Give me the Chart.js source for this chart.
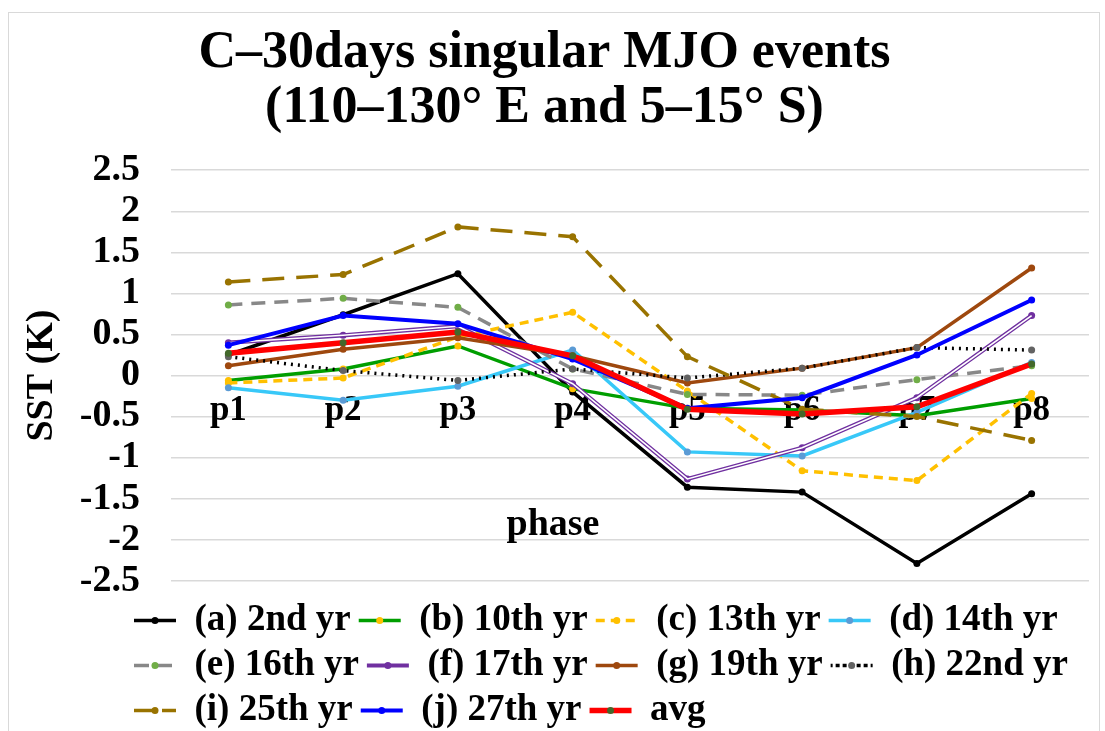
<!DOCTYPE html>
<html>
<head>
<meta charset="utf-8">
<script src="https://cdn.jsdelivr.net/npm/chart.js@4.4.1/dist/chart.umd.min.js"></script>
<style>
  html, body { margin: 0; padding: 0; background: #fff; }
  #wrap { position: relative; width: 1105px; height: 731px; overflow: hidden; }
  #frame { position: absolute; left: 8px; top: 12px; width: 1090px; height: 740px; border: 1px solid #d9d9d9; pointer-events: none; }
</style>
</head>
<body>
<div id="wrap">
  <canvas id="chart" width="1105" height="731"></canvas>
  <div id="frame"></div>
</div>
<script>
const phases = ['p1', 'p2', 'p3', 'p4', 'p5', 'p6', 'p7', 'p8'];

const yr2 = [0.25, 0.74, 1.24, -0.20, -1.36, -1.42, -2.29, -1.44];
const yr10 = [-0.06, 0.08, 0.36, -0.16, -0.40, -0.42, -0.49, -0.28];
const yr13 = [-0.09, -0.03, 0.47, 0.77, -0.19, -1.16, -1.28, -0.22];
const yr14 = [-0.15, -0.30, -0.13, 0.31, -0.93, -0.98, -0.45, 0.16];
const yr16 = [0.86, 0.94, 0.83, 0.08, -0.23, -0.24, -0.05, 0.12];
const yr17 = [0.40, 0.49, 0.60, -0.10, -1.26, -0.88, -0.27, 0.73];
const yr19 = [0.12, 0.32, 0.46, 0.24, -0.09, 0.09, 0.34, 1.31];
const yr22 = [0.23, 0.06, -0.06, 0.08, -0.03, 0.09, 0.34, 0.31];
const yr25 = [1.14, 1.23, 1.81, 1.69, 0.23, -0.41, -0.50, -0.79];
const yr27 = [0.37, 0.73, 0.63, 0.20, -0.40, -0.27, 0.25, 0.92];
const avg = [0.27, 0.40, 0.53, 0.24, -0.41, -0.47, -0.38, 0.14];

const font = 'Liberation Serif';

function line(label, data, color, dot, width, dash) {
  return {
    label: label,
    data: data,
    borderColor: color,
    backgroundColor: color,
    borderWidth: width,
    borderDash: dash || [],
    pointBackgroundColor: dot,
    pointBorderColor: dot,
    pointRadius: 3.5,
    pointBorderWidth: 0,
    tension: 0
  };
}

// white core over the purple series gives the double line
const purpleInner = {
  label: '_inner',
  data: yr17,
  borderColor: '#ffffff',
  borderWidth: 1.6,
  pointRadius: 0,
  tension: 0
};

const datasets = [
  line('(a) 2nd yr', yr2, '#000000', '#000000', 3.5),
  line('(b) 10th yr', yr10, '#009e00', '#ffc000', 3.5),
  line('(c) 13th yr', yr13, '#ffc000', '#ffc000', 3.5, [9, 6]),
  line('(d) 14th yr', yr14, '#38c8f8', '#5b9bd5', 3.5),
  line('(e) 16th yr', yr16, '#888888', '#70ad47', 3.5, [14, 9]),
  line('(f) 17th yr', yr17, '#7030a0', '#7030a0', 4.2),
  purpleInner,
  line('(g) 19th yr', yr19, '#9e480e', '#9e480e', 3.5),
  line('(h) 22nd yr', yr22, '#000000', '#636363', 3.5, [2, 5]),
  line('(i) 25th yr', yr25, '#997300', '#997300', 3.5, [22, 12]),
  line('(j) 27th yr', yr27, '#0000ff', '#0000ff', 4),
  line('avg', avg, '#ff0000', '#43682b', 5.5)
];
// later series are drawn on top, as in the original
datasets.forEach((d, i) => { d.order = datasets.length - i; });

// axis title "phase" sits under the plot, centred on the whole chart
const phaseTitle = {
  id: 'phaseTitle',
  afterDraw(chart) {
    const c = chart.ctx;
    const y = chart.scales.y.getPixelForValue(-1.82);
    c.save();
    c.font = 'bold 38px ' + font;
    c.fillStyle = '#000';
    c.textAlign = 'center';
    c.textBaseline = 'middle';
    c.fillText('phase', 553, y);
    c.restore();
  }
};

// legend rows start under the y axis labels, like the original
const legendShift = {
  id: 'legendShift',
  afterLayout(chart) {
    chart.legend.left = 126;
    chart.legend.right = 1250;
  }
};

// marker dots on the legend lines
const legendDots = {
  id: 'legendDots',
  afterDraw(chart) {
    const lg = chart.legend;
    const c = chart.ctx;
    lg.legendItems.forEach((item, i) => {
      const hb = lg.legendHitBoxes[i];
      const ds = chart.data.datasets[item.datasetIndex];
      c.save();
      c.fillStyle = ds.pointBackgroundColor;
      c.beginPath();
      c.arc(hb.left + 21, hb.top + hb.height / 2, 3.5, 0, Math.PI * 2);
      c.fill();
      c.restore();
    });
  }
};

new Chart(document.getElementById('chart'), {
  type: 'line',
  data: { labels: phases, datasets: datasets },
  plugins: [phaseTitle, legendShift, legendDots],
  options: {
    responsive: false,
    animation: false,
    devicePixelRatio: 1,
    layout: { padding: { left: 0, right: 16, top: 0, bottom: -8 } },
    plugins: {
      title: {
        display: true,
        text: ['C\u201330days singular MJO events', '(110\u2013130\u00b0 E and 5\u201315\u00b0 S)'],
        color: '#000',
        font: { family: font, size: 52, weight: 'bold', lineHeight: 1.06 },
        padding: { top: 26, bottom: 34 }
      },
      legend: {
        position: 'bottom',
        align: 'start',
        title: { display: true, text: '', font: { size: 1 }, padding: { top: 5, bottom: 7 } },
        labels: {
          filter: (item) => item.text !== '_inner',
          sort: (a, b) => a.datasetIndex - b.datasetIndex,
          color: '#000',
          font: { family: font, size: 37, weight: 'bold' },
          boxWidth: 42,
          boxHeight: 0,
          padding: 8
        }
      },
      tooltip: { enabled: false }
    },
    scales: {
      x: {
        position: { y: 0 },
        offset: true,
        grid: { display: false, drawTicks: false },
        border: { display: false },
        ticks: {
          color: '#000',
          font: { family: font, size: 35, weight: 'bold' },
          padding: 14,
          maxRotation: 0
        }
      },
      y: {
        min: -2.5,
        max: 2.5,
        afterFit: (s) => { s.width = 171; },
        grid: { color: '#d9d9d9', lineWidth: 1.5, drawTicks: false },
        border: { display: false },
        ticks: {
          stepSize: 0.5,
          autoSkip: false,
          callback: (v) => String(Number(v.toFixed(1))),
          color: '#000',
          font: { family: font, size: 38, weight: 'bold' },
          padding: 31
        },
        title: {
          display: true,
          text: 'SST (K)',
          color: '#000',
          font: { family: font, size: 38, weight: 'bold', lineHeight: 1.2 },
          padding: { top: 19, bottom: 0 }
        }
      }
    }
  }
});
</script>
</body>
</html>
